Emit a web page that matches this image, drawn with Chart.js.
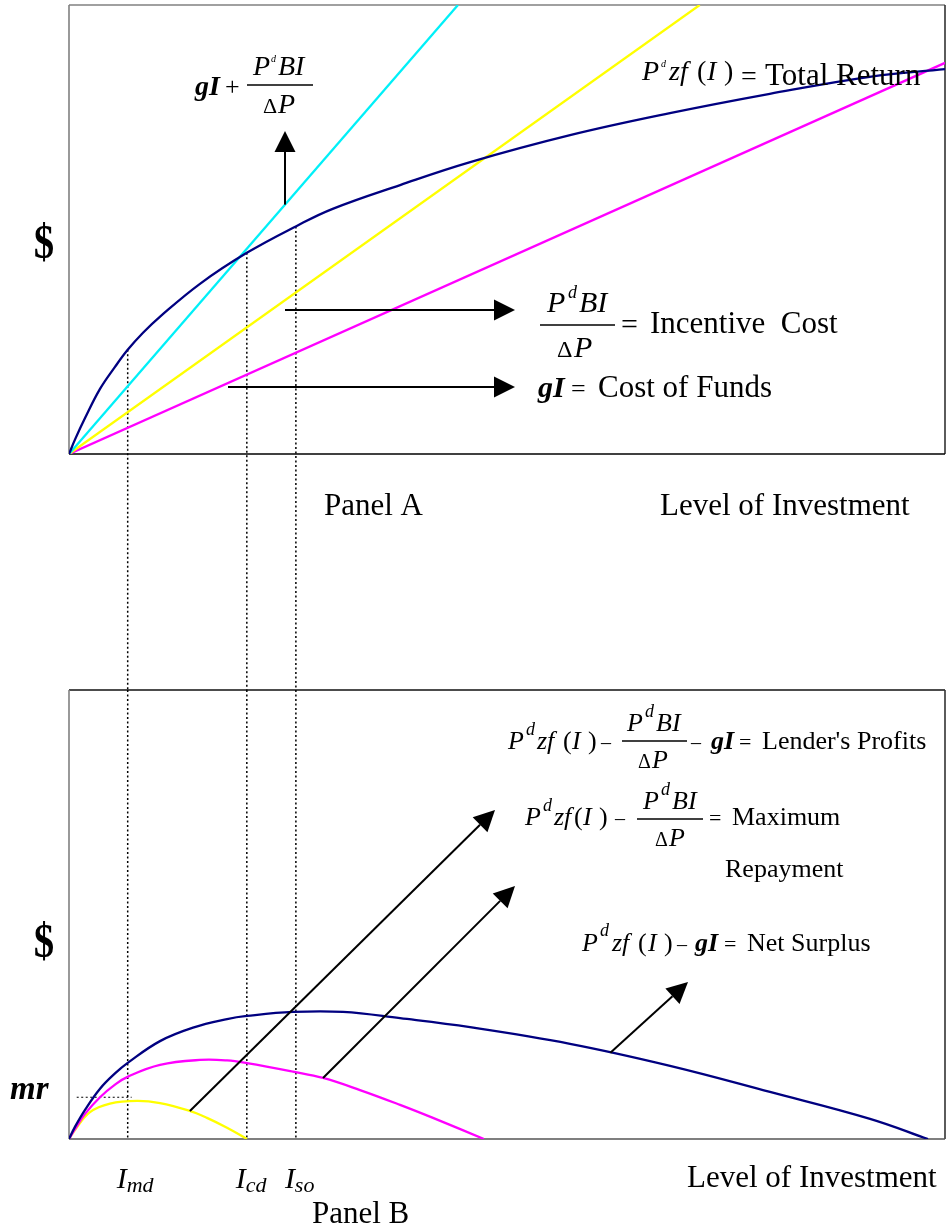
<!DOCTYPE html>
<html lang="en">
<head>
<meta charset="UTF-8">
<title>Total Return, Incentive Cost and Lender's Profits by Level of Investment</title>
<script src="https://cdn.jsdelivr.net/npm/chart.js"></script>
<style>
  body { margin: 0; background: #fff; }
  #wrap { position: relative; width: 947px; height: 1232px; }
  #wrap canvas { position: absolute; left: 0; top: 0; }
</style>
</head>
<body>
<div id="wrap">
  <canvas id="panelA" width="947" height="1232"></canvas>
  <canvas id="panelB" width="947" height="1232"></canvas>
</div>
<script>
// x = level of investment (0-100), y = dollars (0-100), same scale in both panels

// Panel A
const totalReturnX = [0, 0.68, 1.83, 3.54, 5.25, 6.7, 8.45, 10.4, 14.95, 20.3, 26.0, 30.1, 37.8, 45.8, 57.2, 68.6, 80.0, 91.4, 100];
const totalReturnY = [0, 3.2, 8.0, 14.5, 19.4, 23.2, 27.0, 30.6, 37.9, 44.8, 50.8, 54.6, 59.9, 65.0, 71.0, 75.9, 80.2, 84.0, 85.7];
const fundsPlusIncentiveX = [0, 44.4];
const fundsPlusIncentiveY = [0, 100];
const incentiveCostX = [0, 72.0];
const incentiveCostY = [0, 100];
const costOfFundsX = [0, 100];
const costOfFundsY = [0, 87.1];

// Panel B
const netSurplusX = [0, 0.68, 1.83, 3.54, 5.25, 6.74, 10.39, 14.16, 18.04, 20.32, 25.57, 31.28, 37.79, 45.78, 57.19, 68.61, 80.02, 91.44, 98.06];
const netSurplusY = [0, 2.7, 6.5, 11.2, 14.6, 17.0, 21.8, 24.8, 26.7, 27.4, 28.3, 28.3, 26.9, 24.9, 21.2, 16.3, 10.5, 4.5, 0];
const maxRepaymentX = [0, 0.68, 1.83, 3.54, 5.25, 6.74, 10.39, 14.95, 18.04, 20.32, 25.57, 29.0, 33.22, 37.79, 41.55, 47.37];
const maxRepaymentY = [0, 2.2, 5.6, 9.3, 12.1, 13.9, 16.5, 17.6, 17.5, 16.9, 15.0, 13.6, 10.9, 7.6, 4.7, 0];
const lenderProfitX = [0, 0.68, 2.4, 4.68, 7.76, 10.39, 13.7, 15.75, 18.04, 20.32];
const lenderProfitY = [0, 2.0, 6.0, 7.9, 8.5, 8.0, 6.3, 4.7, 2.5, 0];
const mrLevel = [9.3];
const mrSpan = [0.88, 7.15];

// investment levels marked by dotted lines (I_md, I_cd, I_so)
const markLevels = [6.7, 20.3, 25.9];
const markNames = ['md', 'cd', 'so'];

const PANEL_B_TOP = 690;
const SERIF = '"Liberation Serif", "Times New Roman", serif';
const rm = s => `${s}px ${SERIF}`;
const it = s => `italic ${s}px ${SERIF}`;
const bi = s => `bold italic ${s}px ${SERIF}`;

const pts = (xs, ys) => xs.map((x, i) => ({ x: x, y: ys[i] }));

function valueAt(xs, ys, x) {
  for (let i = 1; i < xs.length; i++) {
    if (x <= xs[i]) {
      const t = (x - xs[i - 1]) / (xs[i] - xs[i - 1]);
      return ys[i - 1] + t * (ys[i] - ys[i - 1]);
    }
  }
  return ys[ys.length - 1];
}

function line(color, xs, ys, curved) {
  return {
    data: pts(xs, ys),
    borderColor: color,
    borderWidth: 2.3,
    pointRadius: 0,
    fill: false,
    tension: curved ? 0.4 : 0
  };
}

// draw a list of [text, x, baseline, font]
function texts(ctx, items) {
  ctx.save();
  ctx.fillStyle = '#000';
  ctx.textAlign = 'left';
  ctx.textBaseline = 'alphabetic';
  items.forEach(([s, x, y, f]) => { ctx.font = f; ctx.fillText(s, x, y); });
  ctx.restore();
}

function hline(ctx, x1, x2, y, w) {
  ctx.save();
  ctx.strokeStyle = '#000';
  ctx.lineWidth = w || 1.5;
  ctx.beginPath(); ctx.moveTo(x1, y); ctx.lineTo(x2, y); ctx.stroke();
  ctx.restore();
}

function arrow(ctx, x1, y1, x2, y2) {
  const ang = Math.atan2(y2 - y1, x2 - x1);
  const len = 21, half = 10.5;
  const bx = x2 - len * Math.cos(ang), by = y2 - len * Math.sin(ang);
  ctx.save();
  ctx.strokeStyle = '#000';
  ctx.fillStyle = '#000';
  ctx.lineWidth = 2;
  ctx.beginPath(); ctx.moveTo(x1, y1); ctx.lineTo(bx, by); ctx.stroke();
  ctx.beginPath();
  ctx.moveTo(x2, y2);
  ctx.lineTo(bx + half * Math.sin(ang), by - half * Math.cos(ang));
  ctx.lineTo(bx - half * Math.sin(ang), by + half * Math.cos(ang));
  ctx.closePath();
  ctx.fill();
  ctx.restore();
}

function dotted(ctx, x1, y1, x2, y2, w) {
  ctx.save();
  ctx.strokeStyle = '#000';
  ctx.lineWidth = w || 1.5;
  ctx.setLineDash([2, 2.5]);
  ctx.beginPath(); ctx.moveTo(x1, y1); ctx.lineTo(x2, y2); ctx.stroke();
  ctx.restore();
}

// plot frame, one colour per side: top, right, bottom, left
function frame(ctx, a, colors) {
  const sides = [
    [a.left, a.top, a.right, a.top],
    [a.right, a.top, a.right, a.bottom],
    [a.left, a.bottom, a.right, a.bottom],
    [a.left, a.top, a.left, a.bottom]
  ];
  ctx.save();
  ctx.lineWidth = 1.6;
  sides.forEach((s, i) => {
    ctx.strokeStyle = colors[i];
    ctx.beginPath(); ctx.moveTo(s[0], s[1]); ctx.lineTo(s[2], s[3]); ctx.stroke();
  });
  ctx.restore();
}

function dollarSign(ctx, x, y) {
  ctx.save();
  ctx.translate(x, y);
  ctx.scale(0.85, 1);
  ctx.font = `bold 48px ${SERIF}`;
  ctx.textAlign = 'center';
  ctx.textBaseline = 'middle';
  ctx.fillStyle = '#000';
  ctx.fillText('$', 0, 0);
  ctx.restore();
}

function makeChart(id, datasets, padding, before, after) {
  return new Chart(document.getElementById(id), {
    type: 'line',
    data: { datasets: datasets },
    options: {
      responsive: false,
      animation: false,
      events: [],
      layout: { padding: padding },
      plugins: { legend: { display: false }, tooltip: { enabled: false } },
      scales: {
        x: { type: 'linear', min: 0, max: 100, display: false },
        y: { type: 'linear', min: 0, max: 100, display: false }
      }
    },
    plugins: [{ id: 'annotations', beforeDatasetsDraw: before, afterDatasetsDraw: after }]
  });
}

// ---------- Panel A ----------
makeChart('panelA', [
  line('#000080', totalReturnX, totalReturnY, true),
  line('#00F0F8', fundsPlusIncentiveX, fundsPlusIncentiveY, false),
  line('#FFFF00', incentiveCostX, incentiveCostY, false),
  line('#FF00FF', costOfFundsX, costOfFundsY, false)
], { left: 69, top: 5, right: 2, bottom: 1232 - 454 },
chart => {
  const ctx = chart.ctx, xs = chart.scales.x, ys = chart.scales.y;
  frame(ctx, chart.chartArea, ['#808080', '#333', '#000', '#808080']);
  // dotted drops from the total return curve down to panel B
  markLevels.forEach(m => {
    const px = xs.getPixelForValue(m);
    dotted(ctx, px, ys.getPixelForValue(valueAt(totalReturnX, totalReturnY, m)), px, PANEL_B_TOP);
  });
},
chart => {
  const ctx = chart.ctx, xs = chart.scales.x, ys = chart.scales.y;

  // gI + P^d BI / ΔP
  const ax = 24.66;
  arrow(ctx, xs.getPixelForValue(ax), ys.getPixelForValue(valueAt(fundsPlusIncentiveX, fundsPlusIncentiveY, ax)),
        xs.getPixelForValue(ax), 131);
  texts(ctx, [
    ['gI', 195, 95, bi(28)], ['+', 225, 95, rm(26)],
    ['P', 253, 75, it(28)], ['d', 271, 62, it(10)], ['BI', 278, 75, it(28)],
    ['\u0394', 263, 113, rm(22)], ['P', 278, 113, it(28)]
  ]);
  hline(ctx, 247, 313, 85);

  // total return
  texts(ctx, [
    ['P', 642, 80, it(28)], ['d', 661, 67, it(10)], ['zf', 669, 80, it(28)],
    ['(', 697, 80, rm(28)], ['I', 707, 80, it(28)], [')', 724, 80, rm(28)],
    ['=', 741, 85, rm(28)], ['Total Return', 765, 85, rm(31)]
  ]);

  // incentive cost
  arrow(ctx, 285, 310, 515, 310);
  texts(ctx, [
    ['P', 547, 312, it(30)], ['d', 568, 298, it(18)], ['BI', 579, 312, it(30)],
    ['\u0394', 557, 357, rm(24)], ['P', 574, 357, it(30)],
    ['=', 621, 334, rm(30)], ['Incentive  Cost', 650, 333, rm(31)]
  ]);
  hline(ctx, 540, 615, 325);

  // cost of funds
  arrow(ctx, 228, 387, 515, 387);
  texts(ctx, [
    ['gI', 538, 397, bi(30)], ['=', 571, 397, rm(26)], ['Cost of Funds', 598, 397, rm(31)]
  ]);

  dollarSign(ctx, 44, 246);
  texts(ctx, [
    ['Panel A', 324, 515, rm(31)],
    ['Level of Investment', 660, 515, rm(31)]
  ]);
});

// ---------- Panel B ----------
makeChart('panelB', [
  line('#000080', netSurplusX, netSurplusY, true),
  line('#FF00FF', maxRepaymentX, maxRepaymentY, true),
  line('#FFFF00', lenderProfitX, lenderProfitY, true)
], { left: 69, top: PANEL_B_TOP, right: 2, bottom: 1232 - 1139 },
chart => {
  const ctx = chart.ctx, a = chart.chartArea, xs = chart.scales.x, ys = chart.scales.y;
  frame(ctx, a, ['#111', '#333', '#555', '#808080']);
  markLevels.forEach(m => {
    const px = xs.getPixelForValue(m);
    dotted(ctx, px, a.top, px, a.bottom);
  });
  // mr level
  const py = ys.getPixelForValue(mrLevel[0]);
  dotted(ctx, xs.getPixelForValue(mrSpan[0]), py, xs.getPixelForValue(mrSpan[1]), py, 1.2);
},
chart => {
  const ctx = chart.ctx, xs = chart.scales.x, ys = chart.scales.y;
  const on = (xsArr, ysArr, x) => [xs.getPixelForValue(x), ys.getPixelForValue(valueAt(xsArr, ysArr, x))];

  const t1 = on(lenderProfitX, lenderProfitY, 13.8);
  arrow(ctx, t1[0], t1[1], 495, 810);
  const t2 = on(maxRepaymentX, maxRepaymentY, 29.0);
  arrow(ctx, t2[0], t2[1], 515, 886);
  const t3 = on(netSurplusX, netSurplusY, 61.8);
  arrow(ctx, t3[0], t3[1], 688, 982);

  // lender's profits
  texts(ctx, [
    ['P', 508, 749, it(26)], ['d', 526, 735, it(18)], ['zf', 537, 749, it(26)],
    ['(', 563, 749, rm(26)], ['I', 572, 749, it(26)], [')', 588, 749, rm(26)], ['\u2013', 601, 749, rm(20)],
    ['P', 627, 731, it(26)], ['d', 645, 717, it(18)], ['BI', 656, 731, it(26)],
    ['\u0394', 638, 768, rm(20)], ['P', 652, 768, it(26)],
    ['\u2013', 691, 749, rm(20)], ['gI', 711, 749, bi(26)], ['=', 739, 749, rm(22)],
    ["Lender's Profits", 762, 749, rm(26)]
  ]);
  hline(ctx, 622, 687, 741, 1.3);

  // maximum repayment
  texts(ctx, [
    ['P', 525, 825, it(26)], ['d', 543, 811, it(18)], ['zf', 554, 825, it(26)],
    ['(', 574, 825, rm(26)], ['I', 583, 825, it(26)], [')', 599, 825, rm(26)], ['\u2013', 615, 825, rm(20)],
    ['P', 643, 809, it(26)], ['d', 661, 795, it(18)], ['BI', 672, 809, it(26)],
    ['\u0394', 655, 846, rm(20)], ['P', 669, 846, it(26)],
    ['=', 709, 825, rm(22)], ['Maximum', 732, 825, rm(26)],
    ['Repayment', 725, 877, rm(26)]
  ]);
  hline(ctx, 637, 703, 819, 1.3);

  // net surplus
  texts(ctx, [
    ['P', 582, 951, it(26)], ['d', 600, 936, it(18)], ['zf', 612, 951, it(26)],
    ['(', 638, 951, rm(26)], ['I', 648, 951, it(26)], [')', 664, 951, rm(26)], ['\u2013', 677, 951, rm(20)],
    ['gI', 695, 951, bi(26)], ['=', 724, 951, rm(22)], ['Net Surplus', 747, 951, rm(26)]
  ]);

  dollarSign(ctx, 44, 945);
  texts(ctx, [['mr', 10, 1099, bi(33)]]);

  // investment level labels
  markLevels.forEach((m, i) => {
    const px = xs.getPixelForValue(m);
    ctx.save();
    ctx.font = it(30);
    const w = ctx.measureText('I').width;
    ctx.restore();
    texts(ctx, [['I', px - 11, 1188, it(30)], [markNames[i], px - 11 + w, 1192, it(22)]]);
  });

  texts(ctx, [
    ['Panel B', 312, 1223, rm(31)],
    ['Level of Investment', 687, 1187, rm(31)]
  ]);
});
</script>
</body>
</html>
